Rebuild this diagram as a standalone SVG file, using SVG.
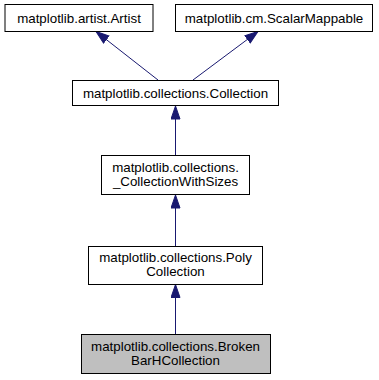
<svg xmlns="http://www.w3.org/2000/svg" width="379" height="380" viewBox="0 0 379 380">
  <style>
    .box { fill: #ffffff; stroke: #000000; stroke-width: 1; }
    .cur { fill: #bfbfbf; stroke: #000000; stroke-width: 1; }
    .lbl { font-family: "Liberation Sans", Arial, Helvetica, sans-serif; font-size: 13.33px; fill: #000000; text-anchor: middle; }
    .edge { fill: none; stroke: #191970; stroke-width: 1; marker-end: url(#arrow); }
  </style>
  <defs>
    <marker id="arrow" markerUnits="userSpaceOnUse" markerWidth="15" markerHeight="11" refX="13.5" refY="5" orient="auto">
      <path d="M0.5,0.5 L13.5,5 L0.5,9.5 z" fill="#191970" stroke="#191970" stroke-width="1"/>
    </marker>
  </defs>
  <rect width="379" height="380" fill="#ffffff"/>

  <g id="connectors">
    <path class="edge" d="M158,80 L96,31.5"/>
    <path class="edge" d="M193,80 L258,31.5"/>
    <path class="edge" d="M175.5,155 L175.5,106"/>
    <path class="edge" d="M175.5,246 L175.5,195"/>
    <path class="edge" d="M175.5,334 L175.5,284.5"/>
  </g>

  <g id="node-artist">
    <rect class="box" x="5" y="4.5" width="148" height="27"/>
    <text class="lbl" x="79" y="22.5">matplotlib.artist.Artist</text>
  </g>
  <g id="node-scalarmappable">
    <rect class="box" x="175.5" y="4.5" width="197" height="27"/>
    <text class="lbl" x="274" y="22.5">matplotlib.cm.ScalarMappable</text>
  </g>
  <g id="node-collection">
    <rect class="box" x="72.5" y="80.5" width="206" height="25"/>
    <text class="lbl" x="175.5" y="97.5">matplotlib.collections.Collection</text>
  </g>
  <g id="node-collectionwithsizes">
    <rect class="box" x="101.5" y="155.5" width="148" height="39"/>
    <text class="lbl" x="175.5" y="172">matplotlib.collections.</text>
    <text class="lbl" x="175.5" y="186">_CollectionWithSizes</text>
  </g>
  <g id="node-polycollection">
    <rect class="box" x="88.5" y="246.5" width="174" height="38"/>
    <text class="lbl" x="175.5" y="262">matplotlib.collections.Poly</text>
    <text class="lbl" x="175.5" y="276">Collection</text>
  </g>
  <g id="node-brokenbarhcollection">
    <rect class="cur" x="81.5" y="334.5" width="189" height="39"/>
    <text class="lbl" x="175.5" y="351">matplotlib.collections.Broken</text>
    <text class="lbl" x="175.5" y="365">BarHCollection</text>
  </g>
</svg>
